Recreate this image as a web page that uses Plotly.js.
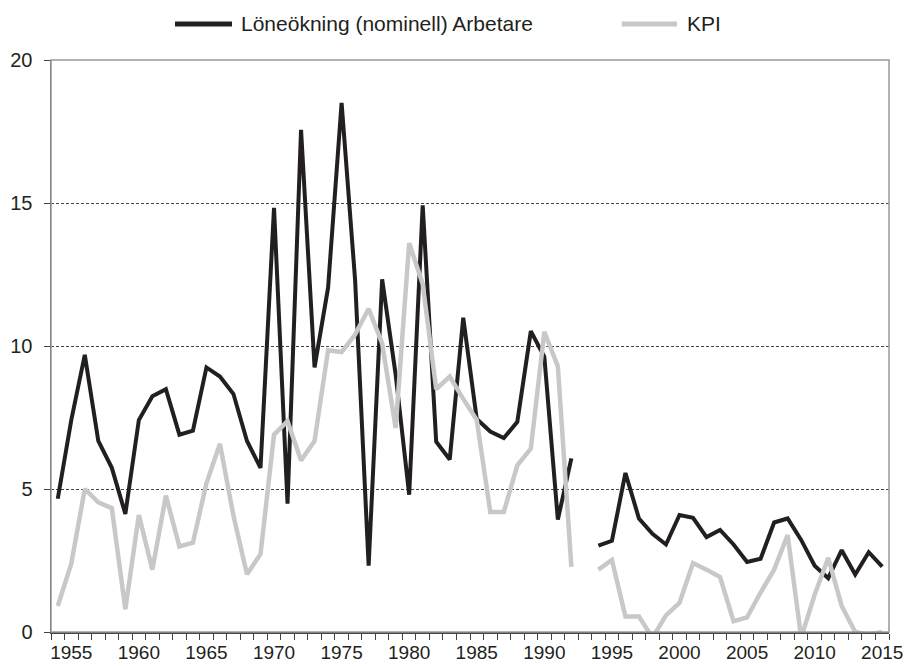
<!DOCTYPE html>
<html>
<head>
<meta charset="utf-8">
<script src="https://cdn.plot.ly/plotly-3.0.1.min.js"></script>
<style>html,body{margin:0;padding:0;background:#fff;}#chart{width:910px;height:666px;}</style>
</head>
<body>
<div id="chart"></div>
<script>
const years = [];
for (let y = 1954; y <= 2015; y++) years.push(y);

const loneokning = [
  4.66, 7.41, 9.69, 6.68, 5.74, 4.13, 7.41, 8.24, 8.49, 6.90,
  7.04, 9.25, 8.93, 8.32, 6.68, 5.74, 14.83, 4.49, 17.56, 9.25,
  12.04, 18.5, 12.3, 2.32, 12.33, 9.0, 4.80, 14.92, 6.65, 6.03,
  10.99, 7.45, 7.01, 6.78, 7.35, 10.52, 9.62, 3.93, 6.07, null,
  3.02, 3.19, 5.56, 3.97, 3.43, 3.06, 4.09, 3.99, 3.32, 3.57,
  3.06, 2.45, 2.56, 3.83, 3.97, 3.22, 2.32, 1.88, 2.86, 2.01,
  2.79, 2.29
];

const kpi = [
  0.91, 2.39, 5.00, 4.53, 4.33, 0.80, 4.09, 2.18, 4.77, 2.99,
  3.12, 5.20, 6.58, 4.06, 2.02, 2.72, 6.90, 7.37, 6.00, 6.68,
  9.85, 9.79, 10.4, 11.3, 10.09, 7.14, 13.6, 12.17, 8.49, 8.93,
  8.15, 7.41, 4.20, 4.20, 5.83, 6.41, 10.5, 9.29, 2.28, null,
  2.18, 2.52, 0.54, 0.54, -0.2, 0.58, 1.02, 2.41, 2.18, 1.92,
  0.38, 0.51, 1.38, 2.18, 3.39, -0.2, 1.30, 2.59, 0.91, 0.0,
  -0.1, 0.0
];

const seriesNames = ['Löneökning (nominell) Arbetare', 'KPI'];
const seriesColors = ['#231f20', '#c8c8c8'];
const tickYears = [1955, 1960, 1965, 1970, 1975, 1980, 1985, 1990, 1995, 2000, 2005, 2010, 2015];
const tickLabels = tickYears.map(String);
const yTicks = [0, 5, 10, 15, 20];

const data = [
  {x: years, y: loneokning, type: 'scatter', mode: 'lines', name: seriesNames[0],
   line: {color: seriesColors[0], width: 4}, connectgaps: false},
  {x: years, y: kpi, type: 'scatter', mode: 'lines', name: seriesNames[1],
   line: {color: seriesColors[1], width: 4.5}, connectgaps: false}
];

const fontFam = '"Liberation Sans", Arial, sans-serif';

const layout = {
  width: 910, height: 666,
  margin: {l: 51, r: 21, t: 60, b: 34},
  paper_bgcolor: '#fff', plot_bgcolor: '#fff',
  font: {family: fontFam, size: 19, color: '#231f20'},
  showlegend: false,
  xaxis: {
    range: [1953.5, 2015.5], tickmode: 'array', tickvals: tickYears, ticktext: tickLabels,
    ticks: '', showgrid: false, zeroline: false, showline: true, linecolor: '#444', linewidth: 1.5,
    minor: {ticks: 'outside', tickmode: 'linear', tick0: 1953.5, dtick: 1, ticklen: 6, tickcolor: '#444', tickwidth: 1, showgrid: false},
    tickfont: {size: 19}, ticklabelstandoff: 3, fixedrange: true
  },
  yaxis: {
    range: [0, 20], tickmode: 'array', tickvals: yTicks, ticktext: yTicks.map(String),
    ticks: 'outside', ticklen: 6, tickcolor: '#444', showgrid: true, gridcolor: '#444', gridwidth: 1,
    griddash: '3px,2px', zeroline: false, showline: true, linecolor: '#444', linewidth: 1.5,
    tickfont: {size: 20}, ticklabelstandoff: 7, fixedrange: true
  },
  shapes: [
    {type: 'rect', xref: 'paper', yref: 'paper', x0: 0, x1: 1, y0: 0, y1: 1,
     line: {color: '#999', width: 1.5}, fillcolor: 'rgba(0,0,0,0)', layer: 'above'},
    {type: 'line', xref: 'paper', yref: 'paper', x0: 0.148, x1: 0.216, y0: 1.063, y1: 1.063,
     line: {color: seriesColors[0], width: 5}},
    {type: 'line', xref: 'paper', yref: 'paper', x0: 0.681, x1: 0.747, y0: 1.063, y1: 1.063,
     line: {color: seriesColors[1], width: 5}}
  ],
  annotations: [
    {xref: 'paper', yref: 'paper', x: 0.224, y: 1.063, xanchor: 'left', yanchor: 'middle',
     text: seriesNames[0], showarrow: false, font: {size: 21, family: fontFam, color: '#231f20'}},
    {xref: 'paper', yref: 'paper', x: 0.756, y: 1.063, xanchor: 'left', yanchor: 'middle',
     text: seriesNames[1], showarrow: false, font: {size: 21, family: fontFam, color: '#231f20'}}
  ]
};

Plotly.newPlot('chart', data, layout, {displayModeBar: false, staticPlot: true});
</script>
</body>
</html>
